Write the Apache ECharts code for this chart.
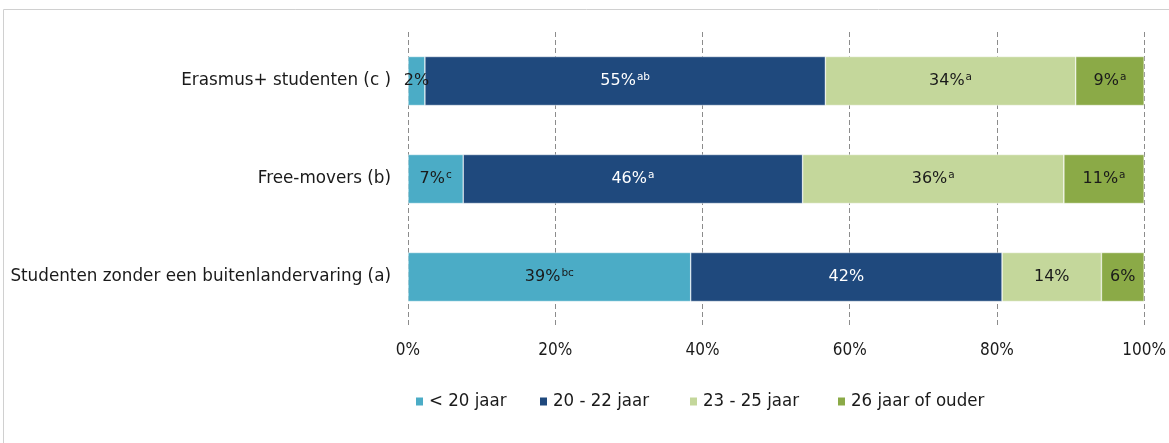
<!DOCTYPE html>
<html><head><meta charset="utf-8">
<script src="https://cdn.jsdelivr.net/npm/echarts@6/dist/echarts.min.js"></script>
<style>html,body{margin:0;padding:0;background:#fff}#c{width:1169px;height:443px}</style>
</head><body><div id="c"></div>
<script>
const categories = ['Studenten zonder een buitenlandervaring (a)', 'Free-movers (b)', 'Erasmus+ studenten (c )'];
const seriesNames = ['< 20 jaar', '20 - 22 jaar', '23 - 25 jaar', '26 jaar of ouder'];
const under20 = [38.4, 7.5, 2.3];
const age20to22 = [42.3, 46.1, 54.4];
const age23to25 = [13.5, 35.5, 34.0];
const age26plus = [5.8, 10.9, 9.3];
const labelsUnder20 = ['39%', '7%', '2%'];
const labels20to22 = ['42%', '46%', '55%'];
const labels23to25 = ['14%', '36%', '34%'];
const labels26plus = ['6%', '11%', '9%'];
const supUnder20 = ['bc', 'c', ''];
const sup20to22 = ['', 'a', 'ab'];
const sup23to25 = ['', 'a', 'a'];
const sup26plus = ['', 'a', 'a'];
const tickLabels = ['0%', '20%', '40%', '60%', '80%', '100%'];

const colors = ['#4BACC6', '#1F497D', '#C4D79B', '#8BAA47'];
const textColors = ['#1a1a1a', '#ffffff', '#1a1a1a', '#1a1a1a'];
const values = [under20, age20to22, age23to25, age26plus];
const labels = [labelsUnder20, labels20to22, labels23to25, labels26plus];
const sups = [supUnder20, sup20to22, sup23to25, sup26plus];
const legendLefts = [414, 538, 688, 836];

const font = 'DejaVu Sans';
const cond = 'DejaVu Sans Condensed';
const chart = echarts.init(document.getElementById('c'), null, {renderer: 'canvas'});
chart.setOption({
  animation: false,
  color: colors,
  graphic: [{type: 'rect', shape: {x: 3.5, y: 9.5, width: 1180, height: 450}, style: {fill: 'none', stroke: '#d0d0d0', lineWidth: 1}, silent: true}],
  grid: {left: 408, right: 24, top: 32, bottom: 117},
  xAxis: {
    type: 'value', min: 0, max: 100, interval: 20,
    axisLine: {show: false}, axisTick: {show: false},
    splitLine: {show: true, lineStyle: {color: '#8c8c8c', type: [5, 3], width: 1}},
    axisLabel: {formatter: v => tickLabels[v / 20], color: '#1a1a1a', fontFamily: cond, fontSize: 17, margin: 16}
  },
  yAxis: {
    type: 'category', data: categories,
    axisLine: {show: false}, axisTick: {show: false},
    axisLabel: {color: '#1a1a1a', fontFamily: font, fontSize: 16.8, margin: 17}
  },
  legend: seriesNames.map((n, i) => ({
    left: legendLefts[i], top: 392, itemWidth: 9, itemHeight: 10, padding: 0,
    icon: 'rect',
    textStyle: {fontFamily: cond, fontSize: 18.5, color: '#1a1a1a'},
    data: [n]
  })),
  series: seriesNames.map((name, si) => ({
    name: name, type: 'bar', stack: 'total', barWidth: '50%',
    itemStyle: {borderColor: '#ffffff', borderWidth: 0.5},
    data: values[si],
    label: {
      show: true, position: 'inside', color: textColors[si],
      fontFamily: font, fontSize: 16,
      formatter: p => {
        const s = sups[si][p.dataIndex];
        return labels[si][p.dataIndex] + (s ? '{s|' + s + '}' : '');
      },
      rich: {s: {fontSize: 10.5, fontFamily: font, color: textColors[si], padding: [0, 0, 8, 1]}}
    }
  }))
});
</script></body></html>
